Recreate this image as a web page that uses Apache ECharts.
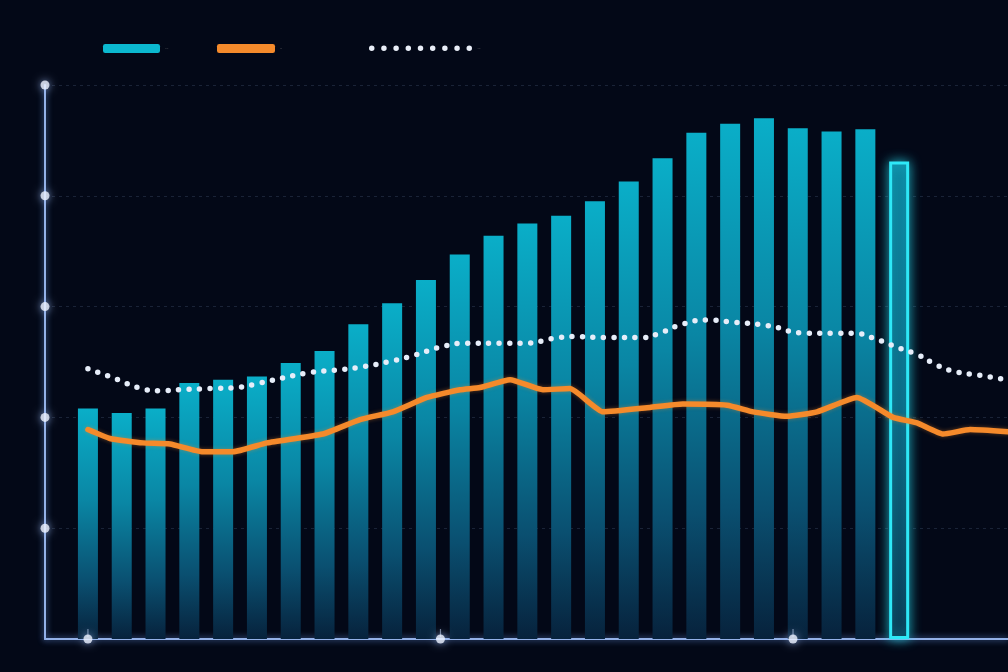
<!DOCTYPE html>
<html>
<head>
<meta charset="utf-8">
<script src="https://cdn.jsdelivr.net/npm/echarts@6/dist/echarts.min.js"></script>
<style>
  html, body { margin: 0; padding: 0; background: #030817; }
  #chart { width: 1008px; height: 672px; }
</style>
</head>
<body>
<div id="chart"></div>
<script>
// bar heights, one per slot (last one is the highlighted bar)
const barValues = [2.08, 2.04, 2.08, 2.31, 2.34, 2.37, 2.49, 2.60, 2.84, 3.03,
                   3.24, 3.47, 3.64, 3.75, 3.82, 3.95, 4.13, 4.34, 4.57, 4.65,
                   4.70, 4.61, 4.58, 4.60, 4.31];
const highlightIndex = 24;

// orange line
const rateX = [0, 0.65, 1.63, 2.43, 3.40, 4.29, 5.30, 6.95, 8.05, 9.02, 10.03, 11.01, 11.60, 12.49,
               13.46, 14.26, 15.24, 16.63, 17.60, 18.91, 19.68, 20.68, 21.57, 22.75, 23.82, 24.53,
               25.30, 26.10, 27.22];
const rateY = [1.89, 1.81, 1.77, 1.76, 1.69, 1.69, 1.77, 1.85, 1.98, 2.05, 2.18, 2.25, 2.27, 2.34,
               2.25, 2.26, 2.05, 2.09, 2.12, 2.11, 2.05, 2.01, 2.05, 2.18, 2.00, 1.95,
               1.85, 1.89, 1.87];

// dotted trend line
const trendX = [0, 0.89, 1.48, 2.13, 2.72, 3.61, 4.41, 5.09, 6.48, 7.46, 8.20, 8.85, 9.53, 10.50,
                11.21, 12.19, 12.99, 13.73, 14.35, 15.36, 16.42, 16.92, 17.57, 18.34, 19.08, 20.09,
                21.27, 22.04, 22.63, 23.28, 23.96, 24.59, 25.00, 25.56, 26.39, 27.19];
const trendY = [2.44, 2.34, 2.27, 2.24, 2.25, 2.26, 2.27, 2.31, 2.40, 2.43, 2.46, 2.50, 2.55, 2.64,
                2.67, 2.67, 2.67, 2.71, 2.73, 2.72, 2.72, 2.76, 2.84, 2.88, 2.86, 2.83,
                2.76, 2.76, 2.76, 2.71, 2.63, 2.56, 2.49, 2.42, 2.38, 2.34];

// axis decorations
const yTicks = [1, 2, 3, 4, 5];
const xTickPos = [0, 10.43, 20.86];

const X_MIN = -1.27, X_MAX = 27.22;
const AXIS_COLOR = '#93b1e8';

// 9 round dots for the dotted legend icon
let dotPath = 'path://';
for (let k = 0; k < 9; k++) {
    const cx = 2.75 + k * 12.2;
    dotPath += 'M' + (cx - 2.75) + ',2.75a2.75,2.75 0 1,0 5.5,0a2.75,2.75 0 1,0 -5.5,0';
}

const legendBase = {
    top: 44,
    padding: 0,
    formatter: '',
    selectedMode: false,
    textStyle: { fontSize: 1 },
    itemGap: 0
};

const barData = barValues.map(function (v, i) {
    if (i === highlightIndex) {
        return {
            value: [i, v],
            itemStyle: {
                color: new echarts.graphic.LinearGradient(0, 0, 0, 1, [
                    { offset: 0, color: '#0a7f99' },
                    { offset: 0.5, color: '#08607c' },
                    { offset: 1, color: '#062a44' }
                ]),
                borderColor: '#2ee8f7',
                borderWidth: 3,
                shadowBlur: 12,
                shadowColor: 'rgba(40,230,250,0.7)'
            }
        };
    }
    return [i, v];
});

var chart = echarts.init(document.getElementById('chart'));
chart.setOption({
    backgroundColor: '#030817',
    animation: false,
    legend: [
        Object.assign({}, legendBase, {
            left: 103, itemWidth: 57, itemHeight: 9,
            data: [{ name: 'Volume', icon: 'roundRect', itemStyle: { color: '#0bb8cf' } }]
        }),
        Object.assign({}, legendBase, {
            left: 217, itemWidth: 58, itemHeight: 9,
            data: [{ name: 'Rate', icon: 'roundRect', itemStyle: { color: '#f58a2b' } }]
        }),
        Object.assign({}, legendBase, {
            left: 369, top: 45.5, itemWidth: 103, itemHeight: 5.5,
            data: [{ name: 'Average', icon: dotPath, itemStyle: { color: '#e9eef8' } }]
        })
    ],
    grid: { left: 45, right: 0, top: 85, bottom: 33 },
    xAxis: {
        type: 'value',
        min: X_MIN,
        max: X_MAX,
        axisLine: {
            show: true,
            onZero: false,
            lineStyle: { color: AXIS_COLOR, width: 2, shadowBlur: 6, shadowColor: 'rgba(120,170,255,0.8)' }
        },
        axisTick: { show: false },
        axisLabel: { show: false },
        splitLine: { show: false }
    },
    yAxis: {
        type: 'value',
        min: 0,
        max: 5,
        interval: 1,
        axisLine: {
            show: true,
            onZero: false,
            lineStyle: { color: AXIS_COLOR, width: 2, shadowBlur: 6, shadowColor: 'rgba(120,170,255,0.8)' }
        },
        axisTick: { show: false },
        axisLabel: { show: false },
        splitLine: {
            show: true,
            lineStyle: { color: 'rgba(110,130,175,0.22)', type: [3, 4], width: 1 }
        }
    },
    series: [
        {
            name: 'Volume',
            type: 'bar',
            barWidth: 20,
            z: 2,
            itemStyle: {
                color: new echarts.graphic.LinearGradient(0, 0, 0, 1, [
                    { offset: 0, color: '#0aaec8' },
                    { offset: 0.4, color: '#0a86a4' },
                    { offset: 0.75, color: '#0a4f70' },
                    { offset: 1, color: '#07223c' }
                ])
            },
            data: barData
        },
        {
            name: 'Average',
            type: 'line',
            smooth: true,
            symbol: 'none',
            z: 4,
            itemStyle: { color: '#e6edf9' },
            lineStyle: { color: '#e6edf9', width: 5.5, type: [0, 10.5], cap: 'round' },
            data: trendX.map(function (x, i) { return [x, trendY[i]]; })
        },
        {
            name: 'Rate',
            type: 'line',
            smooth: 0.15,
            symbol: 'none',
            z: 5,
            itemStyle: { color: '#f58a2b' },
            lineStyle: { color: '#f58a2b', width: 5.5, cap: 'round', join: 'round',
                         shadowBlur: 4, shadowColor: 'rgba(245,138,43,0.4)' },
            data: rateX.map(function (x, i) { return [x, rateY[i]]; })
        },
        {
            // y axis dots
            type: 'scatter',
            clip: false,
            silent: true,
            z: 6,
            symbolSize: 9,
            itemStyle: { color: '#eef3ff', shadowBlur: 8, shadowColor: 'rgba(170,200,255,0.9)' },
            data: yTicks.map(function (v) { return [X_MIN, v]; })
        },
        {
            // small tick stems above x axis dots
            type: 'scatter',
            clip: false,
            silent: true,
            z: 5,
            symbol: 'rect',
            symbolSize: [1.2, 8],
            symbolOffset: [0, -6],
            itemStyle: { color: 'rgba(200,215,245,0.7)' },
            data: xTickPos.map(function (x) { return [x, 0]; })
        },
        {
            // x axis dots
            type: 'scatter',
            clip: false,
            silent: true,
            z: 6,
            symbolSize: 9,
            itemStyle: { color: '#eef3ff', shadowBlur: 8, shadowColor: 'rgba(170,200,255,0.9)' },
            data: xTickPos.map(function (x) { return [x, 0]; })
        }
    ]
});

window.addEventListener('resize', function () { chart.resize(); });
</script>
</body>
</html>
